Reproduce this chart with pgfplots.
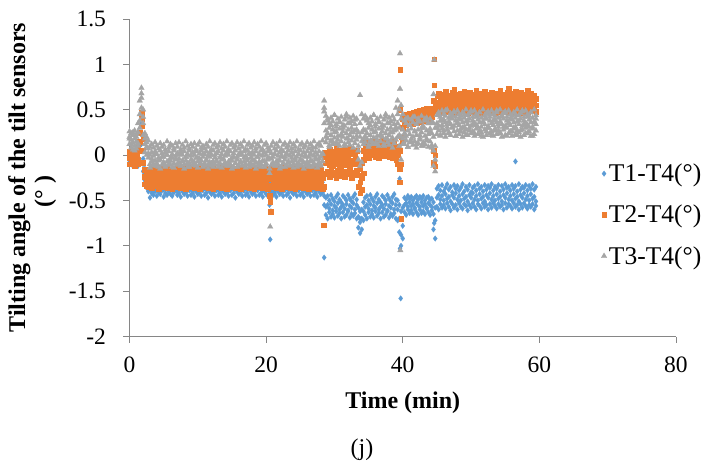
\documentclass[border=0pt]{standalone}
\usepackage{fontspec}
\setmainfont{Liberation Serif}
\usepackage{pgfplots}
\usepackage{pgfplotstable}
\pgfplotsset{compat=1.18}
\definecolor{cA}{HTML}{5B9BD5}
\definecolor{cB}{HTML}{ED7D31}
\definecolor{cC}{HTML}{A5A5A5}
\definecolor{axg}{HTML}{868686}

% x, T1-T4 (a1..a3), T2-T4 (b1..b3), T3-T4 (c1..c4)
\pgfplotstableread{
x a1 a2 a3 b1 b2 b3 c1 c2 c3 c4
0.00 -0.02 0.03 -0.08 0.04 -0.03 -0.10 0.12 0.20 0.26 0.18
0.25 -0.05 0.01 -0.10 0.01 -0.06 0.05 0.08 0.17 0.24 0.12
0.50 -0.07 -0.02 -0.12 -0.04 0.02 -0.09 0.14 0.22 0.06 0.25
0.75 -0.10 -0.04 0.00 -0.07 -0.01 -0.12 0.10 0.18 0.27 0.05
1.00 -0.11 -0.06 -0.02 -0.09 -0.03 0.02 0.07 0.15 0.23 0.20
1.25 -0.12 -0.05 0.03 -0.05 0.08 -0.10 0.13 0.25 0.35 0.10
1.50 -0.08 0.05 0.12 0.05 0.15 0.25 0.30 0.45 0.60 0.38
1.75 0.12 0.24 0.35 0.32 0.40 0.47 0.52 0.63 0.74 0.68
2.00 -0.18 -0.10 -0.04 -0.08 0.05 0.18 0.22 0.35 0.50 0.42
2.25 -0.28 -0.21 -0.15 -0.32 -0.24 -0.16 0.03 0.12 0.24 0.18
2.50 -0.36 -0.30 -0.23 -0.34 -0.26 -0.18 0.00 0.09 0.20 0.14
2.75 -0.40 -0.33 -0.27 -0.35 -0.22 -0.28 -0.03 0.07 0.16 0.02
3.00 -0.47 -0.38 -0.30 -0.33 -0.26 -0.17 -0.10 0.00 0.09 -0.14
3.25 -0.42 -0.36 -0.28 -0.36 -0.24 -0.15 -0.07 0.03 0.12 -0.04
3.50 -0.44 -0.39 -0.31 -0.31 -0.27 -0.19 -0.12 -0.01 0.08 -0.10
3.75 -0.40 -0.35 -0.29 -0.34 -0.23 -0.16 -0.06 0.04 0.14 0.01
4.00 -0.45 -0.37 -0.32 -0.30 -0.28 -0.20 -0.09 0.01 0.10 -0.12
4.25 -0.41 -0.34 -0.27 -0.37 -0.25 -0.14 -0.13 -0.03 0.07 -0.06
4.50 -0.43 -0.40 -0.30 -0.32 -0.22 -0.18 -0.05 0.05 0.13 -0.15
4.75 -0.39 -0.36 -0.28 -0.35 -0.29 -0.15 -0.11 0.02 0.09 -0.02
5.00 -0.46 -0.38 -0.33 -0.30 -0.26 -0.21 -0.08 -0.02 0.11 -0.09
5.25 -0.42 -0.35 -0.29 -0.33 -0.24 -0.17 -0.12 0.03 0.06 -0.13
5.50 -0.44 -0.37 -0.31 -0.36 -0.27 -0.14 -0.07 0.00 0.15 0.00
5.75 -0.40 -0.39 -0.27 -0.31 -0.23 -0.19 -0.10 0.04 0.08 -0.07
6.00 -0.43 -0.34 -0.30 -0.34 -0.28 -0.16 -0.06 -0.03 0.12 -0.11
6.25 -0.45 -0.36 -0.32 -0.37 -0.25 -0.20 -0.13 0.01 0.10 -0.03
6.50 -0.41 -0.38 -0.28 -0.32 -0.22 -0.15 -0.09 0.05 0.07 -0.14
6.75 -0.39 -0.35 -0.31 -0.30 -0.26 -0.18 -0.05 -0.01 0.13 -0.04
7.00 -0.44 -0.40 -0.29 -0.35 -0.29 -0.14 -0.11 0.02 0.09 -0.10
7.25 -0.42 -0.37 -0.33 -0.33 -0.24 -0.21 -0.08 -0.04 0.14 0.01
7.50 -0.46 -0.34 -0.27 -0.36 -0.27 -0.17 -0.12 0.03 0.06 -0.12
7.75 -0.40 -0.36 -0.30 -0.31 -0.23 -0.15 -0.07 0.00 0.11 -0.06
8.00 -0.43 -0.39 -0.32 -0.34 -0.28 -0.19 -0.10 0.04 0.08 -0.15
8.25 -0.41 -0.35 -0.28 -0.37 -0.25 -0.16 -0.06 -0.02 0.15 -0.02
8.50 -0.45 -0.38 -0.31 -0.30 -0.22 -0.20 -0.13 0.01 0.10 -0.09
8.75 -0.39 -0.37 -0.29 -0.33 -0.26 -0.14 -0.09 0.05 0.07 -0.13
9.00 -0.44 -0.34 -0.30 -0.35 -0.29 -0.18 -0.05 -0.01 0.12 0.00
9.25 -0.42 -0.40 -0.27 -0.32 -0.24 -0.15 -0.11 0.03 0.09 -0.07
9.50 -0.46 -0.36 -0.33 -0.36 -0.27 -0.21 -0.08 0.00 0.13 -0.11
9.75 -0.40 -0.38 -0.28 -0.31 -0.23 -0.17 -0.12 0.04 0.06 -0.03
10.00 -0.43 -0.35 -0.31 -0.34 -0.28 -0.14 -0.07 -0.03 0.11 -0.14
10.25 -0.41 -0.39 -0.29 -0.37 -0.25 -0.19 -0.10 0.02 0.14 -0.04
10.50 -0.45 -0.37 -0.32 -0.30 -0.22 -0.16 -0.06 0.05 0.08 -0.10
10.75 -0.39 -0.34 -0.30 -0.33 -0.26 -0.20 -0.13 -0.02 0.10 0.01
11.00 -0.44 -0.36 -0.27 -0.35 -0.29 -0.15 -0.09 0.01 0.07 -0.12
11.25 -0.42 -0.38 -0.33 -0.32 -0.24 -0.18 -0.05 0.04 0.12 -0.06
11.50 -0.47 -0.35 -0.28 -0.36 -0.27 -0.14 -0.11 -0.01 0.09 -0.15
11.75 -0.40 -0.40 -0.31 -0.31 -0.23 -0.21 -0.08 0.03 0.15 -0.02
12.00 -0.43 -0.37 -0.29 -0.34 -0.28 -0.17 -0.12 0.00 0.06 -0.09
12.25 -0.41 -0.34 -0.32 -0.37 -0.25 -0.15 -0.07 0.05 0.11 -0.13
12.50 -0.45 -0.39 -0.28 -0.30 -0.22 -0.19 -0.10 -0.03 0.13 0.00
12.75 -0.39 -0.36 -0.30 -0.33 -0.26 -0.16 -0.06 0.02 0.08 -0.07
13.00 -0.44 -0.38 -0.27 -0.35 -0.29 -0.20 -0.13 0.04 0.10 -0.11
13.25 -0.42 -0.35 -0.33 -0.32 -0.24 -0.14 -0.09 -0.02 0.14 -0.03
13.50 -0.46 -0.37 -0.31 -0.36 -0.27 -0.18 -0.05 0.01 0.07 -0.14
13.75 -0.40 -0.40 -0.29 -0.31 -0.23 -0.15 -0.11 0.05 0.12 -0.04
14.00 -0.43 -0.34 -0.28 -0.34 -0.28 -0.21 -0.08 -0.01 0.09 -0.10
14.25 -0.41 -0.36 -0.32 -0.37 -0.25 -0.17 -0.12 0.03 0.15 0.01
14.50 -0.45 -0.39 -0.30 -0.30 -0.22 -0.14 -0.07 0.00 0.06 -0.12
14.75 -0.39 -0.37 -0.27 -0.33 -0.26 -0.19 -0.10 0.04 0.11 -0.06
15.00 -0.44 -0.35 -0.31 -0.35 -0.29 -0.16 -0.06 -0.03 0.13 -0.15
15.25 -0.42 -0.38 -0.29 -0.32 -0.24 -0.20 -0.13 0.02 0.08 -0.02
15.50 -0.47 -0.34 -0.33 -0.36 -0.27 -0.15 -0.09 0.05 0.10 -0.09
15.75 -0.40 -0.36 -0.28 -0.31 -0.23 -0.18 -0.05 -0.02 0.14 -0.13
16.00 -0.43 -0.40 -0.30 -0.34 -0.28 -0.14 -0.11 0.01 0.07 0.00
16.25 -0.41 -0.37 -0.32 -0.37 -0.25 -0.21 -0.08 0.03 0.12 -0.07
16.50 -0.45 -0.35 -0.27 -0.30 -0.22 -0.17 -0.12 0.00 0.09 -0.11
16.75 -0.39 -0.39 -0.31 -0.33 -0.26 -0.15 -0.07 0.04 0.15 -0.03
17.00 -0.44 -0.36 -0.29 -0.35 -0.29 -0.19 -0.10 -0.01 0.06 -0.14
17.25 -0.42 -0.38 -0.33 -0.32 -0.24 -0.16 -0.06 0.05 0.11 -0.04
17.50 -0.46 -0.34 -0.28 -0.36 -0.27 -0.20 -0.13 0.02 0.13 -0.10
17.75 -0.40 -0.37 -0.30 -0.31 -0.23 -0.14 -0.09 -0.03 0.08 0.01
18.00 -0.43 -0.35 -0.32 -0.34 -0.28 -0.18 -0.05 0.03 0.10 -0.12
18.25 -0.41 -0.40 -0.27 -0.37 -0.25 -0.15 -0.11 0.00 0.14 -0.06
18.50 -0.45 -0.36 -0.31 -0.30 -0.22 -0.21 -0.08 0.04 0.07 -0.15
18.75 -0.39 -0.38 -0.29 -0.33 -0.26 -0.17 -0.12 -0.02 0.12 -0.02
19.00 -0.44 -0.35 -0.33 -0.35 -0.29 -0.14 -0.07 0.01 0.09 -0.09
19.25 -0.42 -0.37 -0.28 -0.32 -0.24 -0.19 -0.10 0.05 0.15 -0.13
19.50 -0.46 -0.39 -0.30 -0.36 -0.27 -0.16 -0.06 -0.01 0.06 0.00
19.75 -0.40 -0.34 -0.32 -0.31 -0.23 -0.20 -0.13 0.03 0.11 -0.07
20.00 -0.43 -0.36 -0.27 -0.34 -0.28 -0.15 -0.09 0.00 0.13 -0.11
20.25 -0.45 -0.38 -0.31 -0.37 -0.25 -0.18 -0.05 0.04 0.08 -0.03
20.50 -0.55 -0.42 -0.33 -0.45 -0.35 -0.24 -0.15 -0.04 0.06 -0.20
20.75 -0.41 -0.35 -0.29 -0.33 -0.26 -0.14 -0.11 0.02 0.10 -0.04
21.00 -0.44 -0.37 -0.28 -0.35 -0.29 -0.19 -0.08 -0.02 0.14 -0.10
21.25 -0.42 -0.40 -0.32 -0.32 -0.24 -0.16 -0.12 0.01 0.07 0.01
21.50 -0.46 -0.36 -0.30 -0.36 -0.27 -0.20 -0.07 0.05 0.12 -0.12
21.75 -0.40 -0.38 -0.27 -0.31 -0.23 -0.15 -0.10 -0.01 0.09 -0.06
22.00 -0.43 -0.34 -0.31 -0.34 -0.28 -0.18 -0.06 0.03 0.15 -0.15
22.25 -0.41 -0.37 -0.29 -0.37 -0.25 -0.14 -0.13 0.00 0.06 -0.02
22.50 -0.45 -0.39 -0.33 -0.30 -0.22 -0.21 -0.09 0.04 0.11 -0.09
22.75 -0.39 -0.35 -0.28 -0.33 -0.26 -0.17 -0.05 -0.02 0.13 -0.13
23.00 -0.44 -0.36 -0.30 -0.35 -0.29 -0.15 -0.11 0.02 0.08 0.00
23.25 -0.42 -0.38 -0.32 -0.32 -0.24 -0.19 -0.08 0.05 0.10 -0.07
23.50 -0.47 -0.35 -0.27 -0.36 -0.27 -0.16 -0.12 -0.01 0.14 -0.11
23.75 -0.40 -0.40 -0.31 -0.31 -0.23 -0.20 -0.07 0.03 0.07 -0.03
24.00 -0.43 -0.37 -0.29 -0.34 -0.28 -0.14 -0.10 0.00 0.12 -0.14
24.25 -0.41 -0.34 -0.33 -0.37 -0.25 -0.18 -0.06 0.04 0.09 -0.04
24.50 -0.45 -0.36 -0.28 -0.30 -0.22 -0.15 -0.13 -0.02 0.15 -0.10
24.75 -0.39 -0.39 -0.30 -0.33 -0.26 -0.21 -0.09 0.01 0.06 0.01
25.00 -0.44 -0.35 -0.32 -0.35 -0.29 -0.17 -0.05 0.05 0.11 -0.12
25.25 -0.42 -0.37 -0.27 -0.32 -0.24 -0.14 -0.11 -0.01 0.13 -0.06
25.50 -0.46 -0.38 -0.31 -0.36 -0.27 -0.19 -0.08 0.03 0.08 -0.15
25.75 -0.40 -0.34 -0.29 -0.31 -0.23 -0.16 -0.12 0.00 0.10 -0.02
26.00 -0.43 -0.40 -0.33 -0.34 -0.28 -0.20 -0.07 0.04 0.14 -0.09
26.25 -0.41 -0.36 -0.28 -0.37 -0.25 -0.15 -0.10 -0.02 0.07 -0.13
26.50 -0.45 -0.38 -0.30 -0.30 -0.22 -0.18 -0.06 0.02 0.12 0.00
26.75 -0.39 -0.35 -0.32 -0.33 -0.26 -0.14 -0.13 0.05 0.09 -0.07
27.00 -0.44 -0.37 -0.27 -0.35 -0.29 -0.21 -0.09 -0.01 0.15 -0.11
27.25 -0.42 -0.39 -0.31 -0.32 -0.24 -0.17 -0.05 0.03 0.08 -0.03
27.50 -0.46 -0.34 -0.29 -0.36 -0.27 -0.15 -0.11 0.00 0.11 -0.14
27.75 -0.40 -0.36 -0.33 -0.31 -0.23 -0.19 -0.08 0.04 0.13 -0.04
28.00 -0.43 -0.38 -0.28 -0.34 -0.28 -0.16 -0.12 -0.02 0.10 -0.10
28.25 -0.41 -0.35 -0.30 -0.37 -0.25 -0.20 -0.07 0.02 0.16 0.01
28.50 -0.45 -0.38 -0.55 -0.35 -0.20 -0.02 0.35 0.48 0.60 0.52
28.75 -0.66 -0.57 -0.47 -0.21 -0.09 0.03 0.14 0.27 0.43 0.20
29.00 -0.70 -0.55 -0.45 -0.18 -0.05 0.00 0.18 0.24 0.38 0.40
29.25 -0.63 -0.59 -0.50 -0.24 -0.11 0.06 0.11 0.30 0.35 0.09
29.50 -0.68 -0.54 -0.44 -0.16 -0.07 -0.02 0.16 0.22 0.41 0.33
29.75 -0.65 -0.61 -0.48 -0.22 -0.12 0.04 0.12 0.28 0.37 0.15
30.00 -0.69 -0.56 -0.51 -0.19 -0.04 0.01 0.19 0.25 0.44 0.44
30.25 -0.62 -0.58 -0.46 -0.25 -0.10 0.07 0.13 0.31 0.34 0.26
30.50 -0.67 -0.53 -0.43 -0.17 -0.06 -0.01 0.17 0.21 0.40 0.12
30.75 -0.64 -0.60 -0.49 -0.23 -0.13 0.05 0.10 0.29 0.36 0.37
31.00 -0.70 -0.57 -0.52 -0.15 -0.08 0.02 0.15 0.23 0.42 0.22
31.25 -0.63 -0.55 -0.45 -0.20 -0.03 -0.02 0.20 0.26 0.33 0.30
31.50 -0.68 -0.59 -0.47 -0.24 -0.11 0.06 0.12 0.32 0.39 0.10
31.75 -0.66 -0.54 -0.50 -0.18 -0.05 0.03 0.18 0.24 0.45 0.42
32.00 -0.62 -0.61 -0.44 -0.21 -0.09 0.00 0.14 0.28 0.35 0.18
32.25 -0.69 -0.56 -0.48 -0.16 -0.12 0.07 0.11 0.22 0.41 0.35
32.50 -0.65 -0.58 -0.51 -0.25 -0.06 0.01 0.16 0.30 0.37 0.25
32.75 -0.67 -0.53 -0.46 -0.19 -0.10 0.04 0.19 0.25 0.43 0.08
33.00 -0.64 -0.60 -0.43 -0.22 -0.04 -0.01 0.13 0.27 0.34 0.39
33.25 -0.70 -0.55 -0.49 -0.17 -0.08 0.05 0.17 0.21 0.40 0.28
33.50 -0.80 -0.68 -0.58 -0.35 -0.22 -0.10 -0.05 0.10 0.25 0.05
33.75 -0.86 -0.74 -0.62 -0.42 -0.30 -0.15 -0.12 0.20 0.66 0.35
34.00 -0.82 -0.70 -0.60 -0.38 -0.25 -0.08 -0.08 0.15 0.45 0.25
34.25 -0.72 -0.62 -0.52 -0.20 -0.05 0.05 0.12 0.28 0.40 0.18
34.50 -0.66 -0.57 -0.47 -0.01 0.07 0.14 0.14 0.27 0.43 0.20
34.75 -0.70 -0.55 -0.45 0.02 0.09 0.12 0.18 0.24 0.38 0.40
35.00 -0.63 -0.59 -0.50 -0.03 0.06 0.15 0.11 0.30 0.35 0.09
35.25 -0.68 -0.54 -0.44 0.03 0.10 0.11 0.16 0.22 0.41 0.33
35.50 -0.65 -0.61 -0.48 0.00 0.05 0.16 0.12 0.28 0.37 0.15
35.75 -0.69 -0.56 -0.51 0.04 0.08 0.13 0.19 0.25 0.44 0.44
36.00 -0.62 -0.58 -0.46 -0.02 0.10 0.12 0.13 0.31 0.34 0.26
36.25 -0.67 -0.53 -0.43 0.01 0.06 0.15 0.17 0.21 0.40 0.12
36.50 -0.64 -0.60 -0.49 -0.03 0.09 0.11 0.10 0.29 0.36 0.37
36.75 -0.70 -0.57 -0.52 0.02 0.07 0.14 0.15 0.23 0.42 0.22
37.00 -0.63 -0.55 -0.45 0.04 0.05 0.16 0.20 0.26 0.33 0.30
37.25 -0.68 -0.59 -0.47 -0.01 0.10 0.12 0.12 0.32 0.39 0.10
37.50 -0.66 -0.54 -0.50 0.03 0.08 0.13 0.18 0.24 0.45 0.42
37.75 -0.62 -0.61 -0.44 0.00 0.06 0.15 0.14 0.28 0.35 0.18
38.00 -0.69 -0.56 -0.48 -0.02 0.09 0.11 0.11 0.22 0.41 0.35
38.25 -0.65 -0.58 -0.51 0.02 0.07 0.14 0.16 0.30 0.37 0.25
38.50 -0.67 -0.53 -0.46 -0.03 0.10 0.12 0.19 0.25 0.43 0.08
38.75 -0.64 -0.60 -0.43 0.01 0.05 0.16 0.13 0.27 0.34 0.39
39.00 -0.70 -0.55 -0.49 -0.05 0.03 0.10 0.17 0.31 0.52 0.28
39.25 -0.72 -0.60 -0.50 -0.10 0.00 0.08 0.20 0.35 0.60 0.45
39.50 -0.85 -0.70 -0.55 -0.30 -0.15 0.05 0.10 0.30 0.50 0.22
39.75 -1.00 -0.88 -0.62 -0.70 -0.10 0.20 -0.05 0.20 0.40 0.55
40.00 -0.92 -0.78 -0.58 0.15 0.30 0.40 0.12 0.28 0.45 0.18
40.25 -0.63 -0.55 -0.47 0.34 0.39 0.44 0.12 0.24 0.38 0.20
40.50 -0.66 -0.53 -0.49 0.33 0.37 0.45 0.16 0.21 0.35 0.40
40.75 -0.60 -0.57 -0.45 0.35 0.40 0.43 0.09 0.27 0.41 0.09
41.00 -0.64 -0.52 -0.48 0.34 0.38 0.46 0.14 0.23 0.33 0.33
41.25 -0.61 -0.56 -0.46 0.36 0.41 0.44 0.18 0.29 0.39 0.15
41.50 -0.65 -0.54 -0.50 0.35 0.39 0.47 0.11 0.20 0.36 0.42
41.75 -0.59 -0.58 -0.47 0.37 0.42 0.45 0.15 0.26 0.42 0.26
42.00 -0.63 -0.53 -0.45 0.36 0.40 0.48 0.08 0.22 0.34 0.12
42.25 -0.66 -0.55 -0.49 0.38 0.43 0.46 0.13 0.28 0.40 0.37
42.50 -0.60 -0.57 -0.46 0.37 0.41 0.49 0.17 0.19 0.37 0.22
42.75 -0.64 -0.52 -0.48 0.39 0.44 0.47 0.10 0.25 0.43 0.30
43.00 -0.62 -0.56 -0.45 0.38 0.42 0.50 0.14 0.30 0.32 0.10
43.25 -0.65 -0.54 -0.50 0.40 0.45 0.48 0.12 0.21 0.38 0.40
43.50 -0.59 -0.58 -0.47 0.39 0.43 0.51 0.16 0.27 0.41 0.18
43.75 -0.63 -0.53 -0.46 0.41 0.46 0.49 0.09 0.23 0.35 0.35
44.00 -0.66 -0.55 -0.49 0.40 0.44 0.52 0.15 0.29 0.40 0.25
44.25 -0.61 -0.57 -0.48 0.42 0.47 0.50 0.11 0.24 0.36 0.08
44.50 -0.82 -0.65 -0.52 -0.08 0.05 0.60 -0.12 0.05 0.35 0.20
44.75 -0.92 -0.72 -0.58 -0.12 0.00 0.55 -0.18 0.10 0.30 -0.05
45.00 -0.57 -0.47 -0.37 0.49 0.58 0.65 0.23 0.35 0.44 0.30
45.25 -0.60 -0.44 -0.34 0.52 0.56 0.68 0.27 0.32 0.47 0.45
45.50 -0.54 -0.49 -0.39 0.47 0.60 0.63 0.21 0.38 0.42 0.22
45.75 -0.58 -0.45 -0.33 0.53 0.55 0.67 0.29 0.33 0.49 0.38
46.00 -0.55 -0.50 -0.40 0.50 0.59 0.62 0.24 0.39 0.45 0.27
46.25 -0.59 -0.43 -0.36 0.48 0.57 0.70 0.20 0.36 0.43 0.49
46.50 -0.53 -0.48 -0.32 0.54 0.61 0.64 0.28 0.31 0.50 0.34
46.75 -0.57 -0.46 -0.38 0.51 0.56 0.66 0.25 0.37 0.41 0.24
47.00 -0.61 -0.51 -0.35 0.49 0.58 0.63 0.22 0.34 0.46 0.42
47.25 -0.54 -0.44 -0.41 0.52 0.55 0.69 0.30 0.40 0.44 0.31
47.50 -0.58 -0.47 -0.33 0.47 0.60 0.72 0.26 0.32 0.48 0.47
47.75 -0.55 -0.42 -0.37 0.53 0.57 0.65 0.21 0.38 0.42 0.21
48.00 -0.60 -0.49 -0.34 0.50 0.59 0.67 0.27 0.35 0.49 0.36
48.25 -0.53 -0.45 -0.39 0.48 0.56 0.62 0.23 0.33 0.45 0.40
48.50 -0.57 -0.50 -0.36 0.54 0.61 0.68 0.29 0.39 0.43 0.26
48.75 -0.59 -0.43 -0.32 0.51 0.58 0.64 0.20 0.36 0.47 0.30
49.00 -0.54 -0.48 -0.40 0.49 0.55 0.70 0.25 0.31 0.41 0.45
49.25 -0.56 -0.46 -0.35 0.52 0.60 0.63 0.28 0.37 0.50 0.22
49.50 -0.61 -0.51 -0.38 0.47 0.57 0.66 0.22 0.34 0.44 0.38
49.75 -0.55 -0.44 -0.33 0.53 0.59 0.69 0.30 0.40 0.46 0.27
50.00 -0.58 -0.47 -0.41 0.50 0.56 0.64 0.24 0.32 0.48 0.49
50.25 -0.53 -0.42 -0.36 0.48 0.61 0.67 0.26 0.38 0.42 0.34
50.50 -0.57 -0.49 -0.34 0.54 0.58 0.62 0.21 0.35 0.49 0.24
50.75 -0.60 -0.45 -0.39 0.51 0.55 0.71 0.29 0.33 0.45 0.42
51.00 -0.54 -0.50 -0.32 0.49 0.60 0.65 0.23 0.39 0.43 0.31
51.25 -0.56 -0.43 -0.37 0.52 0.57 0.68 0.27 0.36 0.47 0.47
51.50 -0.59 -0.48 -0.35 0.47 0.59 0.63 0.25 0.31 0.41 0.21
51.75 -0.53 -0.46 -0.40 0.53 0.56 0.66 0.20 0.37 0.50 0.36
52.00 -0.57 -0.51 -0.33 0.50 0.61 0.70 0.28 0.34 0.44 0.40
52.25 -0.55 -0.44 -0.38 0.48 0.58 0.64 0.22 0.40 0.46 0.26
52.50 -0.60 -0.47 -0.34 0.54 0.55 0.67 0.30 0.32 0.48 0.30
52.75 -0.54 -0.42 -0.36 0.51 0.60 0.62 0.24 0.38 0.42 0.45
53.00 -0.58 -0.49 -0.32 0.49 0.57 0.69 0.26 0.35 0.49 0.22
53.25 -0.53 -0.45 -0.39 0.52 0.59 0.65 0.21 0.33 0.45 0.38
53.50 -0.56 -0.50 -0.35 0.47 0.56 0.68 0.29 0.39 0.43 0.27
53.75 -0.59 -0.43 -0.37 0.53 0.61 0.63 0.23 0.36 0.47 0.49
54.00 -0.54 -0.48 -0.33 0.50 0.58 0.66 0.27 0.31 0.41 0.34
54.25 -0.57 -0.46 -0.40 0.48 0.55 0.71 0.25 0.37 0.50 0.24
54.50 -0.55 -0.51 -0.34 0.54 0.60 0.64 0.20 0.34 0.44 0.42
54.75 -0.60 -0.44 -0.38 0.51 0.57 0.67 0.28 0.40 0.46 0.31
55.00 -0.53 -0.47 -0.32 0.49 0.59 0.62 0.22 0.32 0.48 0.47
55.25 -0.58 -0.42 -0.36 0.52 0.56 0.69 0.30 0.38 0.42 0.21
55.50 -0.54 -0.49 -0.35 0.47 0.61 0.73 0.24 0.35 0.49 0.36
55.75 -0.56 -0.45 -0.39 0.53 0.58 0.65 0.26 0.33 0.45 0.40
56.00 -0.59 -0.50 -0.33 0.50 0.55 0.68 0.21 0.39 0.43 0.26
56.25 -0.53 -0.43 -0.37 0.48 0.60 0.63 0.29 0.36 0.47 0.30
56.50 -0.57 -0.48 -0.34 0.54 0.57 0.70 0.23 0.31 0.41 0.45
56.75 -0.55 -0.46 -0.40 0.51 0.59 0.66 0.27 0.37 0.50 0.22
57.00 -0.60 -0.51 -0.32 0.49 0.56 0.64 0.25 0.34 0.44 0.38
57.25 -0.54 -0.44 -0.38 0.52 0.61 0.69 0.20 0.40 0.46 0.27
57.50 -0.58 -0.47 -0.35 0.47 0.58 0.62 0.28 0.32 0.48 0.49
57.75 -0.53 -0.42 -0.36 0.53 0.55 0.67 0.22 0.38 0.42 0.34
58.00 -0.56 -0.49 -0.33 0.50 0.60 0.65 0.30 0.35 0.49 0.24
58.25 -0.59 -0.45 -0.39 0.48 0.57 0.71 0.24 0.33 0.45 0.42
58.50 -0.55 -0.50 -0.34 0.54 0.59 0.63 0.26 0.39 0.43 0.31
58.75 -0.57 -0.43 -0.37 0.51 0.56 0.68 0.21 0.36 0.47 0.47
59.00 -0.54 -0.48 -0.32 0.49 0.61 0.64 0.29 0.31 0.41 0.21
59.25 -0.60 -0.46 -0.38 0.52 0.58 0.66 0.23 0.37 0.50 0.36
59.50 -0.56 -0.51 -0.35 0.48 0.55 0.62 0.27 0.34 0.44 0.40
}\data

\pgfplotsset{
  sA/.style={only marks, mark=diamond*, mark size=2.8pt, color=cA, mark options={fill=cA, draw=cA, line width=0.2pt}},
  sB/.style={only marks, mark=square*, mark size=2.3pt, color=cB, mark options={fill=cB, draw=cB, line width=0.2pt}},
  sC/.style={only marks, mark=triangle*, mark size=3.3pt, color=cC, mark options={fill=cC, draw=cC, line width=0.2pt}},
}

\begin{document}
\begin{tikzpicture}
\path[use as bounding box] (-129.5pt,-130.5pt) rectangle (583.5pt,336.5pt);
\begin{axis}[
  scale only axis, width=546.5pt, height=317.5pt,
  xmin=0, xmax=80, ymin=-2, ymax=1.5,
  axis x line=bottom, axis y line=left,
  axis line style={-, draw=axg, line width=0.8pt},
  tick align=outside, major tick length=6pt,
  tick style={draw=axg, line width=0.8pt},
  xtick={0,20,40,60,80}, ytick={-2,-1.5,-1,-0.5,0,0.5,1,1.5},
  /pgf/number format/assume math mode=true,
  tick label style={font=\fontsize{23.5}{28}\selectfont},
  yticklabel style={xshift=-14pt},
  xticklabel style={yshift=-11pt},
  xlabel={Time (min)},
  xlabel style={font=\bfseries\fontsize{24}{28}\selectfont, at={(axis description cs:0.5,-0.2094)}, anchor=center},
  ylabel={Tilting angle of the tilt sensors\\(°\hspace{6pt})\rule{27pt}{0pt}},
  ylabel style={align=center, font=\bfseries\fontsize{24}{26}\selectfont, at={(axis description cs:-0.178,0.5)}, anchor=center},
  legend style={draw=none, fill=none, at={(axis description cs:0.8628,0.55)}, anchor=north west, font=\fontsize{25.5}{28}\selectfont, row sep=18pt, inner sep=0pt},
  legend cell align=left,
  legend image code/.code={\draw[mark repeat=2,mark phase=2,#1] plot coordinates {(0pt,0pt) (6pt,0pt) (15pt,0pt)};},
  clip=false,
]
\addplot[sA] table[x=x, y=a1] {\data};
\addlegendentry{T1-T4(°)}
\addplot[sA, forget plot] table[x=x, y=a2] {\data};
\addplot[sA, forget plot] table[x=x, y=a3] {\data};
\addplot[sA, forget plot] coordinates {(20.6,-0.93) (20.7,-0.62) (28.5,-1.13) (39.6,-1.03) (39.7,-1.58) (39.55,-0.26) (44.6,-0.75) (56.5,-0.07) (33.7,-0.70)};
\addplot[sB] table[x=x, y=b1] {\data};
\addlegendentry{T2-T4(°)}
\addplot[sB, forget plot] table[x=x, y=b2] {\data};
\addplot[sB, forget plot] table[x=x, y=b3] {\data};
\addplot[sB, forget plot] coordinates {(20.6,-0.51) (20.65,-0.62) (28.45,-0.77) (39.6,0.94) (39.6,0.50) (44.6,1.06) (44.6,0.77)};
\addplot[sC] table[x=x, y=c1] {\data};
\addlegendentry{T3-T4(°)}
\addplot[sC, forget plot] table[x=x, y=c2] {\data};
\addplot[sC, forget plot] table[x=x, y=c3] {\data};
\addplot[sC, forget plot] table[x=x, y=c4] {\data};
\addplot[sC, forget plot] coordinates {(20.6,-0.79) (39.6,1.12) (39.6,0.73) (39.65,-1.05) (44.6,1.05) (44.5,0.67)};
\node[font=\fontsize{24}{28}\selectfont] at (axis description cs:0.4254,-0.357) {(j)};
\end{axis}
\end{tikzpicture}
\end{document}
